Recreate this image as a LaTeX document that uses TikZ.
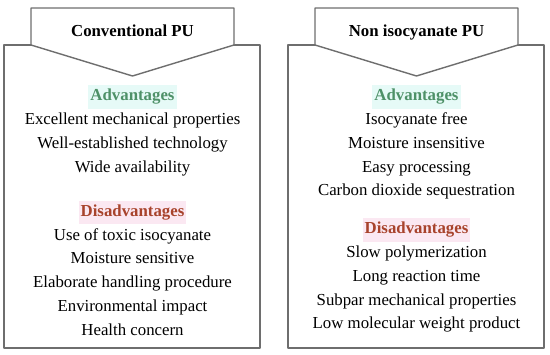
\documentclass[tikz,border=0pt]{standalone}
\usepackage{fontspec}
\setmainfont{Liberation Serif}
\usetikzlibrary{positioning}
\definecolor{pu line}{HTML}{6E6E6E}
\definecolor{adv green}{HTML}{4E9168}
\definecolor{dis red}{HTML}{A8432C}
\definecolor{adv fill}{HTML}{E6FAF7}
\definecolor{dis fill}{HTML}{FBE8F2}
\tikzset{
  pu panel/.style={
    draw=pu line, line width=1.4pt, fill=white, line join=round
  },
  pu title/.style={
    font=\fontsize{16.8}{20}\selectfont\bfseries,
    text height=12pt, text depth=4pt, inner sep=0pt
  },
  pu item/.style={
    font=\fontsize{16.8}{20}\selectfont,
    text height=12pt, text depth=4pt,
    inner xsep=2pt, inner ysep=3.65pt
  },
  pu adv/.style={
    pu item, font=\fontsize{16.8}{20}\selectfont\bfseries,
    text=adv green, fill=adv fill
  },
  pu dis/.style={
    pu item, font=\fontsize{16.8}{20}\selectfont\bfseries,
    text=dis red, fill=dis fill
  }
}

\begin{document}
\begin{tikzpicture}[x=1pt, y=1pt, node distance=0pt]
  \useasboundingbox (0,0) rectangle (550,355);

  % left panel
  \draw [pu panel] (4,310) rectangle (260,7);
  \draw [pu panel] (31,347) -- (234,347) -- (234,310) -- (132.5,279) -- (31,310) -- cycle;
  \node (conv) [pu title] at (132.5,322) {Conventional PU};

  \node (conv adv) [pu adv] at (132.5,258) {Advantages};
  \node (conv a1) [pu item, below=of conv adv] {Excellent mechanical properties};
  \node (conv a2) [pu item, below=of conv a1] {Well-established technology};
  \node (conv a3) [pu item, below=of conv a2] {Wide availability};

  \node (conv dis) [pu dis, below=20.8pt of conv a3] {Disadvantages};
  \node (conv d1) [pu item, below=of conv dis] {Use of toxic isocyanate};
  \node (conv d2) [pu item, below=of conv d1] {Moisture sensitive};
  \node (conv d3) [pu item, below=of conv d2] {Elaborate handling procedure};
  \node (conv d4) [pu item, below=of conv d3] {Environmental impact};
  \node (conv d5) [pu item, below=of conv d4] {Health concern};

  % right panel
  \draw [pu panel] (288,310) rectangle (544,7);
  \draw [pu panel] (315,347) -- (518,347) -- (518,310) -- (416.5,279) -- (315,310) -- cycle;
  \node (nipu) [pu title] at (416.5,322) {Non isocyanate PU};

  \node (nipu adv) [pu adv] at (416.5,258) {Advantages};
  \node (nipu a1) [pu item, below=of nipu adv] {Isocyanate free};
  \node (nipu a2) [pu item, below=of nipu a1] {Moisture insensitive};
  \node (nipu a3) [pu item, below=of nipu a2] {Easy processing};
  \node (nipu a4) [pu item, below=of nipu a3] {Carbon dioxide sequestration};

  \node (nipu dis) [pu dis, below=14.5pt of nipu a4] {Disadvantages};
  \node (nipu d1) [pu item, below=of nipu dis] {Slow polymerization};
  \node (nipu d2) [pu item, below=of nipu d1] {Long reaction time};
  \node (nipu d3) [pu item, below=of nipu d2] {Subpar mechanical properties};
  \node (nipu d4) [pu item, below=of nipu d3] {Low molecular weight product};
\end{tikzpicture}
\end{document}
